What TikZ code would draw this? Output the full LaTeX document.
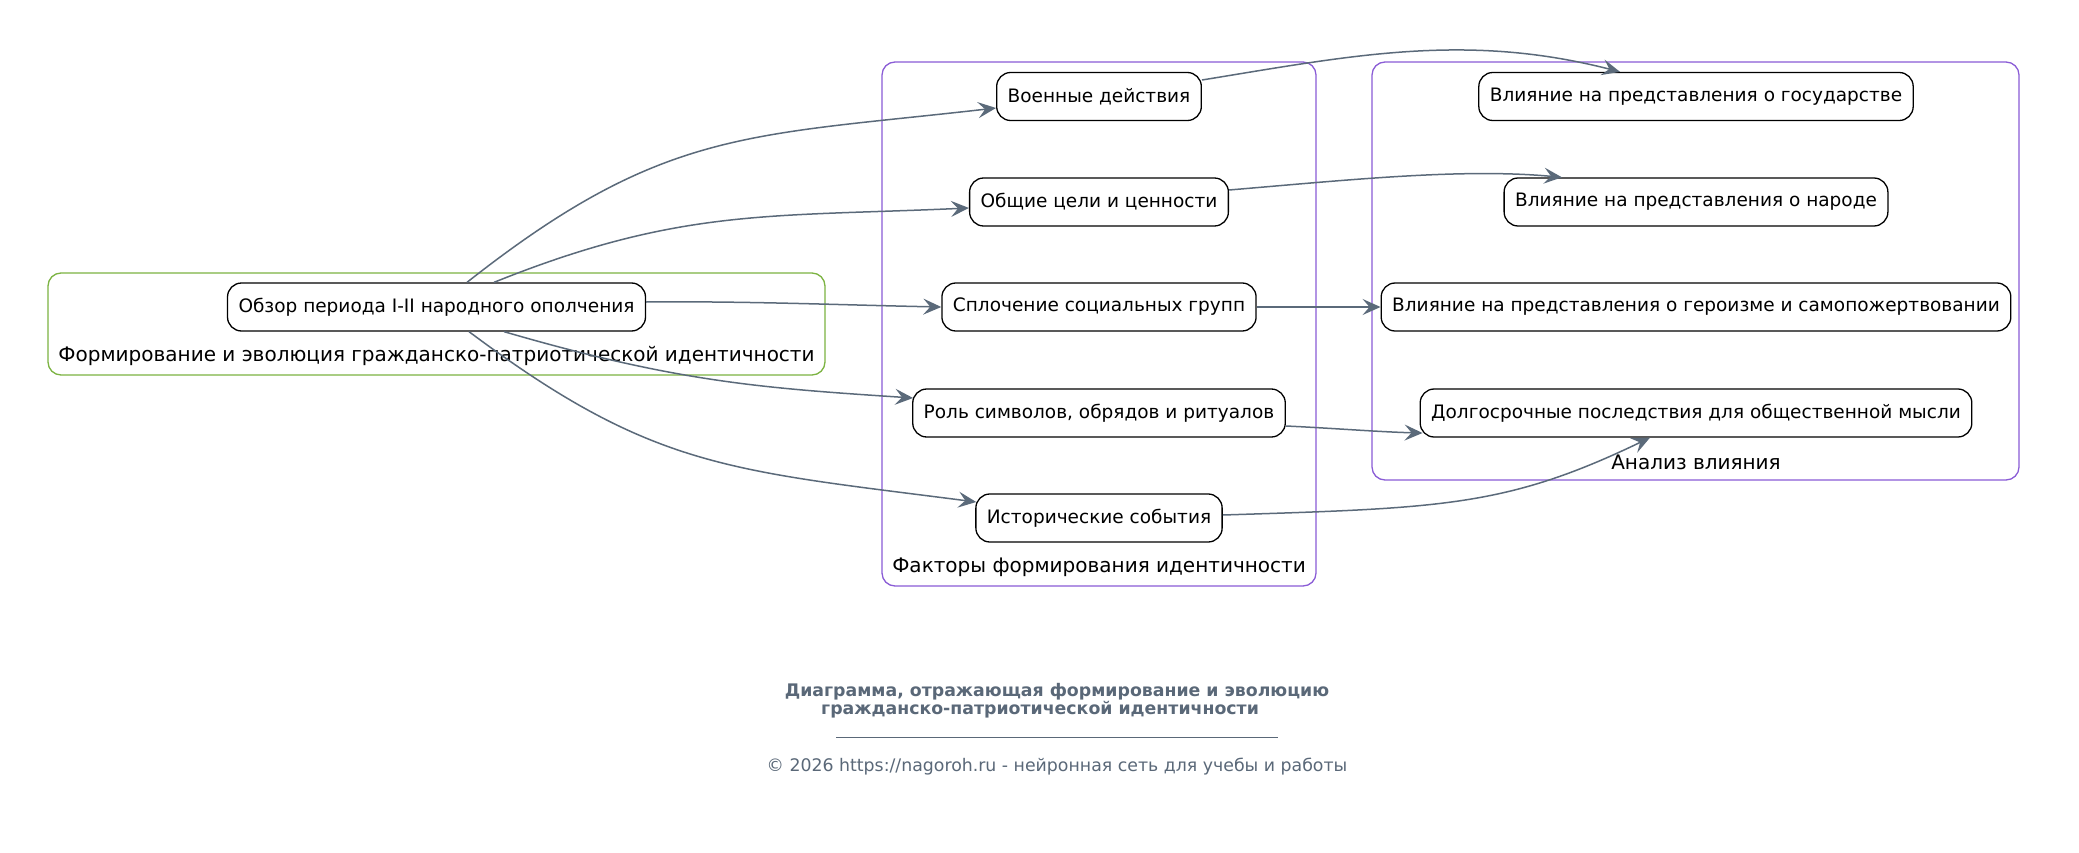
\documentclass[tikz,border=0pt]{standalone}
\usepackage{fontspec}
\setmainfont{DejaVu Sans}
\usetikzlibrary{arrows.meta,calc}
\definecolor{edgec}{HTML}{5B6A7A}
\definecolor{greenc}{HTML}{7CB342}
\definecolor{purplec}{HTML}{8A5CD6}
\definecolor{footc}{HTML}{5A6878}
\begin{document}
\begin{tikzpicture}[x=1pt,y=-1pt,
  box/.style={draw=black, line width=1.3pt, rounded corners=14pt, minimum height=48pt, inner xsep=11pt, inner ysep=0pt, font=\fontsize{18.5}{22}\selectfont},
  clus/.style={line width=1.3pt, rounded corners=13pt},
  clab/.style={font=\fontsize{20}{24}\selectfont, inner sep=0pt},
  conn/.style={draw=edgec, line width=1.5pt, -{Stealth[length=18pt,width=16pt,inset=7pt]}},
  foot/.style={text=footc, inner sep=0pt},
]
\fill[white] (0,0) rectangle (2079,853);
\useasboundingbox (0,0) rectangle (2079,853);

% clusters
\draw[clus, greenc] (48,273) rectangle (825,375);
\draw[clus, purplec] (882,62) rectangle (1316,586);
\draw[clus, purplec] (1372,62) rectangle (2019,480);
\node[clab] (lg) at (436.5,356) {Формирование и эволюция гражданско-патриотической идентичности};
\node[clab] (lp) at (1099,567) {Факторы формирования идентичности};
\node[clab] (lr) at (1696,462) {Анализ влияния};

% nodes
\node[box] (obzor) at (436.5,307) {Обзор периода I-II народного ополчения};
\node[box] (voen) at (1099,96.5) {Военные действия};
\node[box] (cel) at (1099,202) {Общие цели и ценности};
\node[box] (spl) at (1099,307) {Сплочение социальных групп};
\node[box] (rol) at (1099,413) {Роль символов, обрядов и ритуалов};
\node[box] (ist) at (1099,518) {Исторические события};
\node[box] (gos) at (1696,96.5) {Влияние на представления о государстве};
\node[box] (nar) at (1696,202) {Влияние на представления о народе};
\node[box] (ger) at (1696,307) {Влияние на представления о героизме и самопожертвовании};
\node[box] (dol) at (1696,413) {Долгосрочные последствия для общественной мысли};

% connectors
\draw[conn] ($(obzor.north)+(30.5,0)$) .. controls (663,128) and (747,136.5) .. ($(voen.west)+(0,11.5)$);
\draw[conn] ($(obzor.north)+(57.5,0)$) .. controls (679,208) and (768,217) .. ($(cel.west)+(0,6)$);
\draw[conn] ($(obzor.east)+(0,-5)$) .. controls (745,301) and (842,305) .. (spl.west);
\draw[conn] ($(obzor.south)+(67.5,0)$) .. controls (677,382) and (761,388) .. ($(rol.west)+(1,-15)$);
\draw[conn] ($(obzor.south)+(32.5,0)$) .. controls (653,469) and (728,470) .. ($(ist.west)+(1,-16)$);
\draw[conn] ($(voen.east)+(0,-16.5)$) .. controls (1350,56) and (1465,32) .. ($(gos.north)+(-76,0)$);
\draw[conn] ($(cel.east)+(0,-12)$) .. controls (1348,180) and (1462,168) .. ($(nar.north)+(-134,0)$);
\draw[conn] (spl.east) -- (ger.west);
\draw[conn] ($(rol.east)+(0,13)$) .. controls (1330,428) and (1380,432) .. ($(dol.west)+(3,20)$);
\draw[conn] ($(ist.east)+(0,-3)$) .. controls (1442,508) and (1506,507) .. ($(dol.south)+(-46,0)$);

% footer
\node[foot, font=\bfseries\fontsize{17.33}{20}\selectfont] (t1) at (1057,692) {Диаграмма, отражающая формирование и эволюцию};
\node[foot, font=\bfseries\fontsize{17.33}{20}\selectfont] (t2) at (1040,710) {гражданско-патриотической идентичности};
\draw[footc, line width=0.8pt] (836,737) -- (1278,737);
\node[foot, font=\fontsize{17.33}{20}\selectfont] (cp) at (1057,767) {© 2026 https://nagoroh.ru - нейронная сеть для учебы и работы};
\end{tikzpicture}
\end{document}
